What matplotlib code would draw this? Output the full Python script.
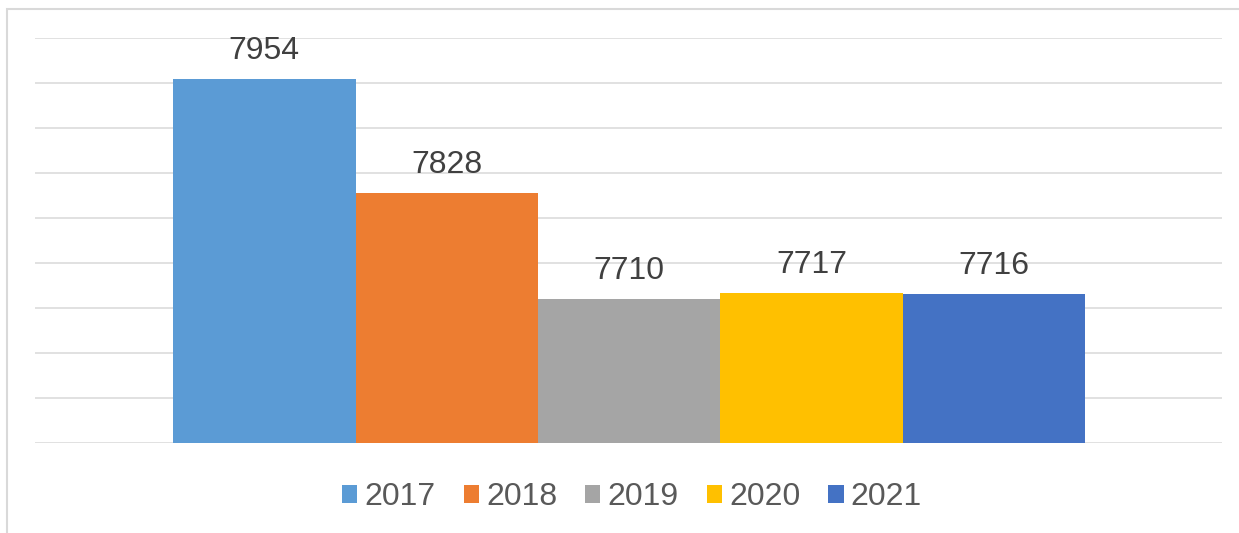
import matplotlib.pyplot as plt
from matplotlib.patches import Rectangle
import numpy as np

plt.rcParams['font.family'] = ['Liberation Sans', 'DejaVu Sans']

# data
years = ['2017', '2018', '2019', '2020', '2021']
values = [7954, 7828, 7710, 7717, 7716]
colors = ['#5B9BD5', '#ED7D31', '#A5A5A5', '#FFC000', '#4472C4']

fig = plt.figure(figsize=(12.39, 5.33), dpi=100)
ax = fig.add_axes([35 / 1239, 1 - 443 / 533, (1222 - 35) / 1239, (443 - 38) / 533])

x = np.arange(len(years))
bars = ax.bar(x, values, width=1.0, color=colors, label=years, zorder=3)

for xi, v in zip(x, values):
    ax.annotate(str(v), (xi, v), xytext=(0, 13), textcoords='offset pixels',
                ha='center', va='bottom', fontsize=23, color='#404040')

ax.set_ylim(7550, 8000)
ax.set_xlim(-1.257, 5.25)
ax.set_yticks(np.arange(7550, 8001, 50))
ax.set_xticks([])
ax.tick_params(axis='y', length=0, labelleft=False)
ax.grid(axis='y', color='#d9d9d9', linewidth=1.1, zorder=0)
for s in ax.spines.values():
    s.set_visible(False)

leg = fig.legend(handles=bars, labels=years, loc='center', bbox_to_anchor=(632 / 1239, 1 - 497 / 533),
                 ncol=5, frameon=False, fontsize=23, handlelength=0.48, handleheight=0.48,
                 handletextpad=0.22, columnspacing=0.88)
for t in leg.get_texts():
    t.set_color('#595959')

# outer chart border (cropped on right and bottom)
fig.patches.append(Rectangle((7 / 1239, -0.1), 2, (533 - 9) / 533 + 0.1, transform=fig.transFigure,
                             fill=False, edgecolor='#d9d9d9', linewidth=1.5))

fig.savefig('out.png', dpi=100)
